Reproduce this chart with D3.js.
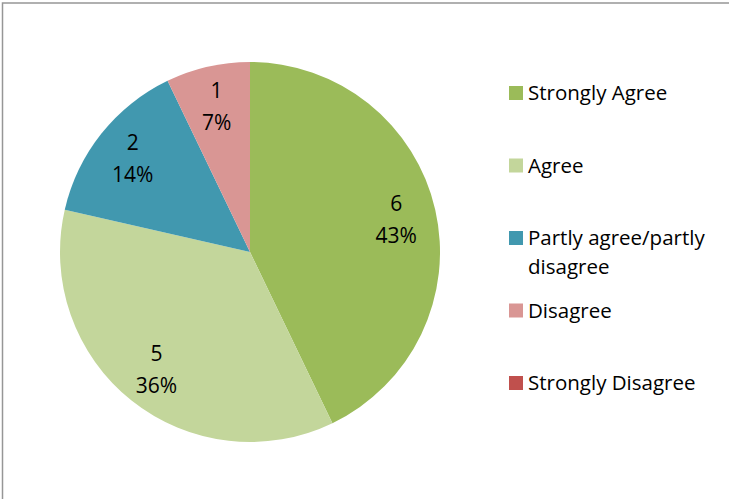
<!DOCTYPE html>
<html>
<head>
<meta charset="utf-8">
<script src="https://cdnjs.cloudflare.com/ajax/libs/d3/7.8.5/d3.min.js"></script>
<style>
  body { margin: 0; background: #fff; }
  text { font-family: "Open Sans", Lato, sans-serif; fill: #000; }
</style>
</head>
<body>
<div class="chart"></div>
<script>
// data
const categories = ["Strongly Agree", "Agree", "Partly agree/partly disagree", "Disagree", "Strongly Disagree"]
const counts = [6, 5, 2, 1, 0]
const colours = ["#9BBB59", "#C3D69B", "#4198AF", "#D99694", "#C0504D"]

const width = 729, height = 499
const svg = d3.select(".chart").append("svg").attr("width", width).attr("height", height)

// outer frame (runs off the right and bottom edges)
svg.append("rect").attr("x", 2.5).attr("y", 3).attr("width", 760).attr("height", 540)
   .attr("fill", "none").attr("stroke", "#969696").attr("stroke-width", 1.5)

const colourScale = d3.scaleOrdinal().domain(categories).range(colours)
const total = d3.sum(counts)
const data = categories.map((c, i) => ({name: c, total: counts[i]}))

const pie = d3.pie().sort(null).value(d => d.total)
const arcPath = d3.arc().innerRadius(0).outerRadius(190)
const labelArc = d3.arc().innerRadius(150).outerRadius(150)

const pieCanvas = svg.append("g").attr("transform", "translate(250,252)")
const angles = pie(data).filter(d => d.data.total > 0)

pieCanvas.selectAll("path").data(angles).enter().append("path")
   .attr("d", arcPath).attr("fill", d => colourScale(d.data.name))

const labels = pieCanvas.selectAll(".lbl").data(angles).enter().append("text")
   .attr("class", "lbl").attr("text-anchor", "middle").style("font-size", "21px")
   .attr("transform", d => "translate(" + labelArc.centroid(d) + ")")
labels.append("tspan").attr("x", 0).attr("y", -8).text(d => d.data.total)
labels.append("tspan").attr("x", 0).attr("y", 24).text(d => Math.round(d.data.total / total * 100) + "%")

// legend
const legendY = d3.scalePoint().domain(categories).range([93, 383])
const legend = svg.selectAll(".legend").data(categories).enter().append("g")
   .attr("class", "legend").attr("transform", d => "translate(509," + legendY(d) + ")")
legend.append("rect").attr("x", 0).attr("y", -7).attr("width", 14).attr("height", 14)
   .attr("fill", d => colourScale(d))
legend.append("text").attr("x", 19).attr("dy", "0.35em").style("font-size", "20.5px")
   .each(function(d) {
     const t = d3.select(this)
     if (d === "Partly agree/partly disagree") {
       t.append("tspan").attr("x", 19).attr("y", 0).attr("dy", "0.35em").text("Partly agree/partly")
       t.append("tspan").attr("x", 19).attr("y", 29).attr("dy", "0.35em").text("disagree")
     } else {
       t.text(d)
     }
   })
</script>
</body>
</html>
